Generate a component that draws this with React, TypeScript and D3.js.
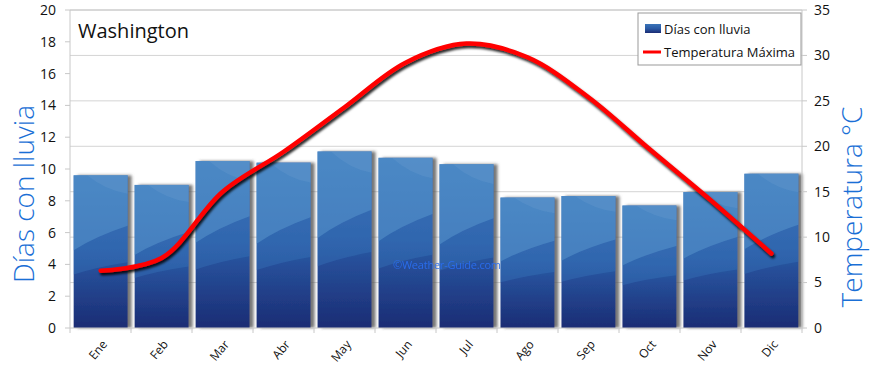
import React, { useEffect, useRef } from "react";
import * as d3 from "d3";

// data
const months = ["Ene", "Feb", "Mar", "Abr", "May", "Jun", "Jul", "Ago", "Sep", "Oct", "Nov", "Dic"];
const rainDays = [9.6, 9.0, 10.5, 10.4, 11.1, 10.7, 10.3, 8.2, 8.3, 7.7, 8.55, 9.7];
const maxTemp = [6.3, 7.7, 15.0, 19.4, 24.3, 29.2, 31.3, 29.8, 25.4, 19.7, 14.1, 8.2];
const leftTicks = [0, 2, 4, 6, 8, 10, 12, 14, 16, 18, 20];
const rightTicks = [0, 5, 10, 15, 20, 25, 30, 35];

const FONT = "'Open Sans', 'DejaVu Sans', sans-serif";

const App = () => {
  const ref = useRef<SVGSVGElement | null>(null);

  useEffect(() => {
    const width = 870;
    const height = 365;
    const margin = { top: 10, left: 70, bottom: 37, right: 68 };
    const svg = d3.select(ref.current);
    svg.selectAll("*").remove();

    const x = d3
      .scaleBand()
      .domain(months)
      .range([margin.left, width - margin.right])
      .paddingInner(0.115)
      .paddingOuter(0.06);
    const yL = d3.scaleLinear().domain([0, 20]).range([height - margin.bottom, margin.top]);
    const yR = d3.scaleLinear().domain([0, 35]).range([height - margin.bottom, margin.top]);

    const defs = svg.append("defs");
    const g1 = defs.append("linearGradient").attr("id", "barBase").attr("x1", 0).attr("y1", 0).attr("x2", 0).attr("y2", 1);
    g1.append("stop").attr("offset", "0%").attr("stop-color", "#3a74b8");
    g1.append("stop").attr("offset", "50%").attr("stop-color", "#2a5aa5");
    g1.append("stop").attr("offset", "100%").attr("stop-color", "#1b2c74");

    const sh = defs.append("filter").attr("id", "barShadow").attr("x", "-10%").attr("y", "-10%").attr("width", "130%").attr("height", "120%");
    sh.append("feDropShadow").attr("dx", 4).attr("dy", 0).attr("stdDeviation", 1.5).attr("flood-color", "#555").attr("flood-opacity", 0.8);

    const lsh = defs.append("filter").attr("id", "lineShadow").attr("x", "-10%").attr("y", "-10%").attr("width", "120%").attr("height", "130%");
    lsh.append("feDropShadow").attr("dx", 1.5).attr("dy", 2.5).attr("stdDeviation", 1.2).attr("flood-color", "#000").attr("flood-opacity", 0.85);

    const x0 = margin.left;
    const x1 = width - margin.right;
    const y0 = height - margin.bottom;

    // grid lines (right axis)
    svg
      .append("g")
      .selectAll("line")
      .data(rightTicks.filter((t) => t > 0))
      .join("line")
      .attr("x1", x0)
      .attr("x2", x1)
      .attr("y1", (d) => yR(d))
      .attr("y2", (d) => yR(d))
      .attr("stroke", "#d4d4d4");

    // bars
    const bars = svg.append("g");
    rainDays.forEach((v, i) => {
      const bx = x(months[i])!;
      const bw = x.bandwidth();
      const by = yL(v);
      const bh = y0 - by;
      const gb = bars.append("g");
      gb.append("rect").attr("x", bx).attr("y", by).attr("width", bw).attr("height", bh).attr("fill", "url(#barBase)").attr("filter", "url(#barShadow)");
      // curved highlight bands
      const band2 = `M${bx},${by} L${bx + bw},${by} L${bx + bw},${by + bh * 0.57} Q${bx + bw * 0.45},${by + bh * 0.6} ${bx},${by + bh * 0.65} Z`;
      const band1 = `M${bx},${by} L${bx + bw},${by} L${bx + bw},${by + bh * 0.33} Q${bx + bw * 0.4},${by + bh * 0.4} ${bx},${by + bh * 0.49} Z`;
      const band0 = `M${bx + bw * 0.25},${by} L${bx + bw},${by} L${bx + bw},${by + bh * 0.12} Q${bx + bw * 0.6},${by + bh * 0.1} ${bx + bw * 0.25},${by} Z`;
      gb.append("path").attr("d", band2).attr("fill", "#3d7bbf").attr("opacity", 0.35);
      gb.append("path").attr("d", band1).attr("fill", "#5b9ad0").attr("opacity", 0.5);
      gb.append("path").attr("d", band0).attr("fill", "#8ab8e0").attr("opacity", 0.15);
    });

    // axes frame
    svg.append("line").attr("x1", x0).attr("x2", x1).attr("y1", margin.top).attr("y2", margin.top).attr("stroke", "#c8c8c8");
    svg.append("line").attr("x1", x0).attr("x2", x0).attr("y1", margin.top).attr("y2", y0).attr("stroke", "#c8c8c8");
    svg.append("line").attr("x1", x1).attr("x2", x1).attr("y1", margin.top).attr("y2", y0).attr("stroke", "#c8c8c8");
    svg.append("line").attr("x1", x0).attr("x2", x1).attr("y1", y0).attr("y2", y0).attr("stroke", "#c8c8c8");

    // left axis
    const la = svg.append("g").attr("font-family", FONT).attr("font-size", 14);
    leftTicks.forEach((t) => {
      la.append("line").attr("x1", x0 - 5).attr("x2", x0).attr("y1", yL(t)).attr("y2", yL(t)).attr("stroke", "#c8c8c8");
      la.append("text").attr("x", x0 - 14).attr("y", yL(t)).attr("dy", "0.35em").attr("text-anchor", "end").attr("fill", "#111").text(t);
    });
    // right axis
    const ra = svg.append("g").attr("font-family", FONT).attr("font-size", 14);
    rightTicks.forEach((t) => {
      ra.append("line").attr("x1", x1).attr("x2", x1 + 5).attr("y1", yR(t)).attr("y2", yR(t)).attr("stroke", "#c8c8c8");
      ra.append("text").attr("x", x1 + 12).attr("y", yR(t)).attr("dy", "0.35em").attr("text-anchor", "start").attr("fill", "#111").text(t);
    });
    // bottom axis
    const step = (x1 - x0) / months.length;
    const ba = svg.append("g").attr("font-family", FONT).attr("font-size", 12);
    d3.range(months.length + 1).forEach((i) => {
      ba.append("line").attr("x1", x0 + i * step).attr("x2", x0 + i * step).attr("y1", y0).attr("y2", y0 + 5).attr("stroke", "#c8c8c8");
    });
    months.forEach((m) => {
      const cx = x(m)! + x.bandwidth() / 2;
      ba.append("text")
        .attr("transform", `translate(${cx + 4},${y0 + 14}) rotate(-50)`)
        .attr("text-anchor", "end")
        .attr("dy", "0.35em")
        .attr("fill", "#111")
        .text(m);
    });

    // watermark
    svg.append("text").attr("x", 393).attr("y", 269).attr("font-family", FONT).attr("font-size", 11).attr("textLength", 108).attr("fill", "#2a6ef0").attr("opacity", 0.95).text("©Weather-Guide.com");

    // temperature line
    const line = d3
      .line<number>()
      .x((_, i) => x(months[i])! + x.bandwidth() / 2)
      .y((d) => yR(d))
      .curve(d3.curveCatmullRom.alpha(0.5));
    svg.append("path").attr("d", line(maxTemp)).attr("fill", "none").attr("stroke", "#ff0000").attr("stroke-width", 4.5).attr("stroke-linecap", "round").attr("filter", "url(#lineShadow)");

    // title
    svg.append("text").attr("x", 78).attr("y", 38).attr("font-family", FONT).attr("font-size", 20).attr("fill", "#111").text("Washington");

    // axis titles
    svg.append("text")
      .attr("transform", `translate(34,${(margin.top + y0) / 2 + 25}) rotate(-90)`)
      .attr("text-anchor", "middle")
      .attr("font-family", FONT)
      .attr("font-weight", 300)
      .attr("font-size", 28)
      .attr("fill", "#1a6fd6")
      .text("Días con lluvia");
    svg.append("text")
      .attr("transform", `translate(862,${(margin.top + y0) / 2 + 38}) rotate(-90)`)
      .attr("text-anchor", "middle")
      .attr("font-family", FONT)
      .attr("font-weight", 300)
      .attr("font-size", 28)
      .attr("fill", "#1a6fd6")
      .text("Temperatura °C");

    // legend
    const lg = svg.append("g").attr("font-family", FONT).attr("font-size", 13);
    lg.append("rect").attr("x", 638).attr("y", 13).attr("width", 163).attr("height", 52).attr("fill", "#fff").attr("stroke", "#999");
    lg.append("rect").attr("x", 645).attr("y", 24).attr("width", 16).attr("height", 9).attr("fill", "url(#barBase)");
    lg.append("text").attr("x", 664).attr("y", 29).attr("dy", "0.35em").attr("fill", "#111").text("Días con lluvia");
    lg.append("line").attr("x1", 643).attr("x2", 661).attr("y1", 52).attr("y2", 52).attr("stroke", "#ff0000").attr("stroke-width", 3);
    lg.append("text").attr("x", 664).attr("y", 52).attr("dy", "0.35em").attr("fill", "#111").text("Temperatura Máxima");
  }, []);

  return (
    <div>
      <svg ref={ref} width={870} height={365} style={{ position: "absolute", left: 0, top: 0, background: "#fff" }} />
    </div>
  );
};

export default App;
